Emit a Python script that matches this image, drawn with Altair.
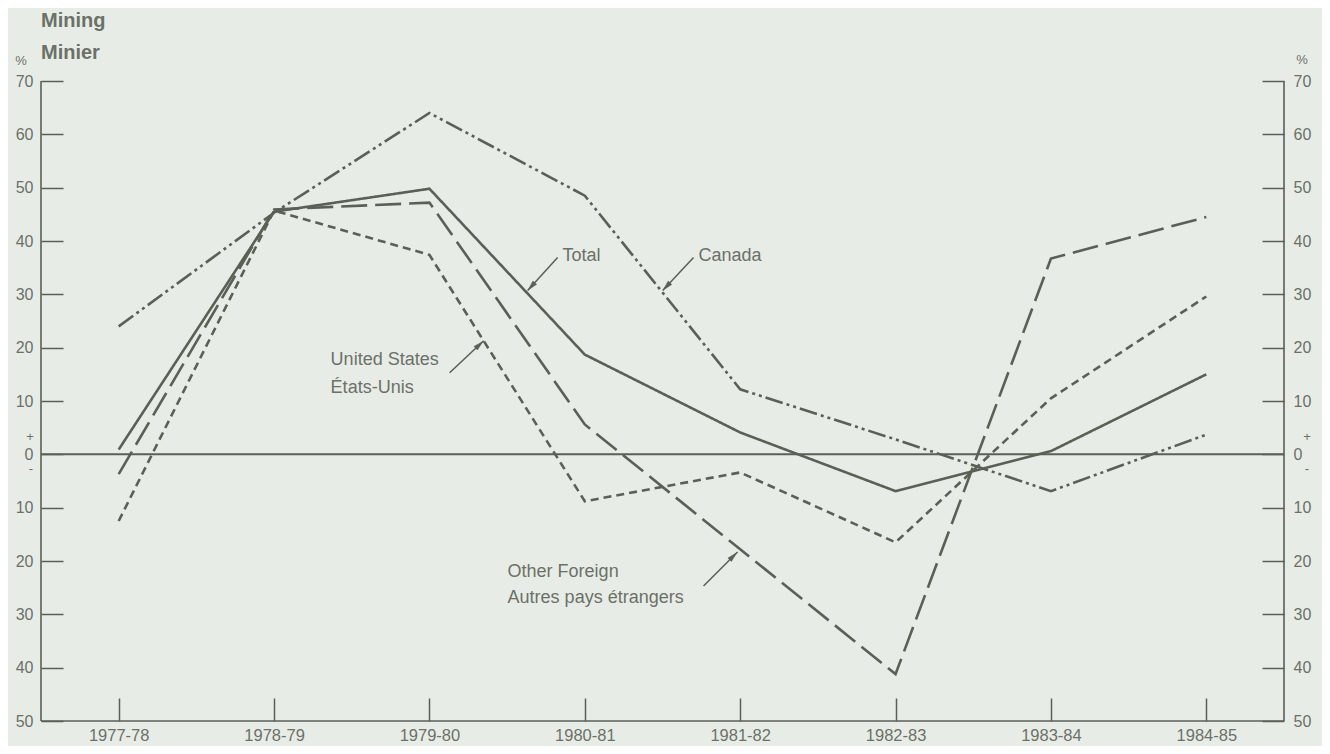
import altair as alt
import pandas as pd

# ---- data ----
categories = ["1977-78", "1978-79", "1979-80", "1980-81", "1981-82", "1982-83", "1983-84", "1984-85"]
total = [0.9, 45.5, 49.8, 18.7, 4.1, -6.9, 0.6, 15.0]
canada = [24.0, 45.3, 64.0, 48.5, 12.2, 2.8, -6.9, 3.7]
united_states = [-12.5, 45.7, 37.4, -8.8, -3.4, -16.5, 10.5, 29.6]
other_foreign = [-3.7, 45.9, 47.2, 5.6, -17.8, -41.2, 36.7, 44.5]

series_names = ["Total", "Canada", "United States", "Other Foreign"]
series_dash = [[1, 0], [18, 4, 3, 4, 3, 4], [8, 5], [26, 8]]

y_ticks = list(range(-50, 80, 10))

ann_text = ["Total", "Canada", "United States", "États-Unis", "Other Foreign", "Autres pays étrangers"]
ann_x = [2.857, 3.732, 1.364, 1.364, 2.503, 2.503]
ann_y = [37.1, 37.1, 17.6, 12.5, -22.1, -27.0]

arrow_tail_x = [2.825, 3.700, 2.130, 3.764]
arrow_tail_y = [36.9, 36.9, 15.3, -24.7]
arrow_tip_x = [2.632, 3.501, 2.349, 3.983]
arrow_tip_y = [30.7, 30.7, 21.3, -18.3]
arrow_angle = [222, 223, 47, 45]

# ---- styling ----
LINE = "#5a6056"
TEXT = "#6b7168"
BG = "#e8ece6"
FONT = "Liberation Sans"
X_DOM = [-0.5, 7.5]
Y_DOM = [-50, 70]

rows = []
for name, vals in zip(series_names, [total, canada, united_states, other_foreign]):
    for i, v in enumerate(vals):
        rows.append({"series": name, "idx": i, "value": v})
df = pd.DataFrame(rows)

ann_df = pd.DataFrame({"text": ann_text, "x": ann_x, "y": ann_y})
arr_df = pd.DataFrame({
    "x": arrow_tail_x, "y": arrow_tail_y, "x2": arrow_tip_x, "y2": arrow_tip_y,
    "ang": arrow_angle,
})
arr_df["hx"] = arr_df["x2"] + 0.14 * (arr_df["x"] - arr_df["x2"])
arr_df["hy"] = arr_df["y2"] + 0.14 * (arr_df["y"] - arr_df["y2"])

xsc = alt.Scale(domain=X_DOM, nice=False, zero=False)
ysc = alt.Scale(domain=Y_DOM, nice=False, zero=False)

cat_js = "[" + ",".join("'%s'" % c for c in categories) + "]"

x_axis = alt.Axis(values=list(range(len(categories))), labelExpr=cat_js + "[datum.value]",
                  title=None, grid=False, domain=False, offset=-23, tickSize=23,
                  tickColor=LINE, tickWidth=1.5, labelPadding=6, labelFontSize=16.5,
                  labelColor=TEXT, labelFont=FONT)

def y_axis(orient, pad):
    return alt.Axis(orient=orient, values=y_ticks, labelExpr="abs(datum.value)", title=None,
                    grid=False, domain=False, offset=-22, tickSize=22, tickColor=LINE,
                    tickWidth=1.5, labelPadding=pad, labelFontSize=16, labelColor=TEXT,
                    labelFont=FONT)

X_ = lambda f: alt.X(f, type="quantitative", scale=xsc, axis=x_axis)
Y_noax = lambda f: alt.Y(f, type="quantitative", scale=ysc, axis=None)

lines = alt.Chart(df).mark_line(strokeWidth=2.6, color=LINE, strokeCap="butt").encode(
    x=X_("idx"),
    y=alt.Y("value:Q", scale=ysc, axis=y_axis("left", 8)),
    strokeDash=alt.StrokeDash("series:N", scale=alt.Scale(domain=series_names, range=series_dash), legend=None),
    detail="series:N",
)

frame_df = pd.DataFrame({"x": [X_DOM[1]], "y": [Y_DOM[0]], "y2": [Y_DOM[1]]})
right_frame = alt.Chart(frame_df).mark_rule(color=LINE, strokeWidth=1.6).encode(
    x=X_("x"),
    y=alt.Y("y:Q", scale=ysc, axis=y_axis("right", 9)),
    y2="y2:Q",
)
left_frame = alt.Chart(pd.DataFrame({"x": [X_DOM[0]], "y": [Y_DOM[0]], "y2": [Y_DOM[1]]})).mark_rule(
    color=LINE, strokeWidth=1.6).encode(x=X_("x"), y=Y_noax("y"), y2="y2:Q")
bottom = alt.Chart(pd.DataFrame({"y": [Y_DOM[0]]})).mark_rule(color=LINE, strokeWidth=1.4).encode(y=Y_noax("y"))
zero = alt.Chart(pd.DataFrame({"y": [0]})).mark_rule(color=LINE, strokeWidth=2).encode(y=Y_noax("y"))

ann = alt.Chart(ann_df).mark_text(align="left", baseline="middle", fontSize=18, font=FONT, color=TEXT).encode(
    x=X_("x"), y=Y_noax("y"), text="text:N")

arrows = alt.Chart(arr_df).mark_rule(color=LINE, strokeWidth=1.5).encode(
    x=X_("x"), y=Y_noax("y"), x2="x2:Q", y2="y2:Q")

heads = []
for i in range(len(arr_df)):
    sub = arr_df.iloc[[i]]
    heads.append(alt.Chart(sub).mark_point(
        shape="M0,-1L0.45,0.8L-0.45,0.8Z", filled=True, size=120, fill=LINE,
        stroke=LINE, strokeWidth=0.5, opacity=1,
        angle=float(arr_df["ang"].iloc[i])).encode(x=X_("hx"), y=Y_noax("hy")))

# small marks: %, +, - and titles
sign_df = pd.DataFrame({
    "t": ["%", "+", "-", "%", "+", "-"],
    "x": [X_DOM[0], X_DOM[0], X_DOM[0], X_DOM[1], X_DOM[1], X_DOM[1]],
    "y": [Y_DOM[1], 0, 0, Y_DOM[1], 0, 0],
    "dx": [-20, -11, -10, 18, 23, 23],
    "dy": [-20, -17, 15, -21, -17, 15],
})
signs = []
for _, r in sign_df.iterrows():
    signs.append(alt.Chart(pd.DataFrame([r])).mark_text(
        fontSize=13, font=FONT, color=TEXT, dx=float(r["dx"]), dy=float(r["dy"]),
        align="center", baseline="middle").encode(x=X_("x"), y=Y_noax("y"), text="t:N"))

title_df = pd.DataFrame({"t": ["Mining", "Minier"], "x": [X_DOM[0]] * 2, "y": [Y_DOM[1]] * 2})
titles = []
for t, dy in zip(["Mining", "Minier"], [-60, -28]):
    titles.append(alt.Chart(title_df[title_df.t == t]).mark_text(
        fontSize=20, fontWeight="bold", font=FONT, color=TEXT, align="left", baseline="middle", dy=dy
    ).encode(x=X_("x"), y=Y_noax("y"), text="t:N"))

chart = alt.layer(
    zero, bottom, left_frame, lines, right_frame, ann, arrows, *heads, *signs, *titles
).resolve_scale(y="independent").properties(
    width=1243, height=640,
    autosize=alt.AutoSizeParams(type="none"),
    padding={"left": 33, "top": 73, "right": 38, "bottom": 25},
).configure(background=BG).configure_view(stroke=None)

chart.save("out.html", embed_options={"renderer": "svg", "actions": False})
